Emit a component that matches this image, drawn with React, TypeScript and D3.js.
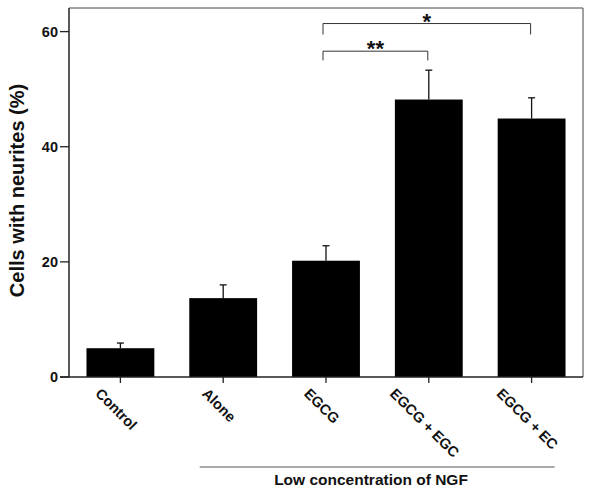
import React from "react";
import * as d3 from "d3";

const categories = ["Control", "Alone", "EGCG", "EGCG + EGC", "EGCG + EC"];
const means = [5.0, 13.7, 20.2, 48.2, 44.9];
const errTops = [5.9, 16.0, 22.8, 53.3, 48.5];
const yTicks = [0, 20, 40, 60];
const groupLabel = "Low concentration of NGF";
const groupMembers = ["Alone", "EGCG + EC"];
const brackets = [
  { from: "EGCG", to: "EGCG + EC", level: 61.4, drop: 59.5, label: "*" },
  { from: "EGCG", to: "EGCG + EGC", level: 56.6, drop: 55.0, label: "**" },
];
const yTitle = "Cells with neurites (%)";

const W = 600;
const H = 493;
const left = 69;
const right = 583;
const top = 8;
const bottom = 377;
const FONT = "'Liberation Sans', Arial, Helvetica, sans-serif";
const XFS = 14.5;

function measure(text: string, size: number): number {
  if (typeof document === "undefined") return text.length * size * 0.6;
  const canvas = document.createElement("canvas");
  const ctx = canvas.getContext("2d");
  if (!ctx) return text.length * size * 0.6;
  ctx.font = `bold ${size}px "Liberation Sans", Arial, sans-serif`;
  return ctx.measureText(text).width;
}

export default function App() {
  const x = d3.scaleBand<string>().domain(categories).range([left, right]).paddingInner(0.34).paddingOuter(0.17);
  const y = d3.scaleLinear().domain([0, 64.1]).range([bottom, top]);
  const bw = x.bandwidth();
  const cx = (c: string) => (x(c) as number) + bw / 2;
  const c45 = Math.SQRT1_2;
  const asc = 0.72 * XFS;

  return (
    <svg width={W} height={H} style={{ position: "absolute", left: 0, top: 0, background: "#fff" }} fontFamily={FONT}>
      <rect x={0} y={0} width={W} height={H} fill="#fff" />
      {/* frame top/right */}
      <line x1={left} x2={right} y1={top} y2={top} stroke="#444" strokeWidth={1} />
      <line x1={right} x2={right} y1={top} y2={bottom} stroke="#444" strokeWidth={1} />
      {/* bars */}
      {categories.map((c, i) => (
        <rect key={c} x={x(c)} y={y(means[i])} width={bw} height={bottom - y(means[i])} fill="#000" />
      ))}
      {/* error bars */}
      {categories.map((c, i) => (
        <g key={"e" + c} stroke="#111" strokeWidth={1.3}>
          <line x1={cx(c)} x2={cx(c)} y1={y(means[i])} y2={y(errTops[i])} />
          <line x1={cx(c) - 3.5} x2={cx(c) + 3.5} y1={y(errTops[i])} y2={y(errTops[i])} />
        </g>
      ))}
      {/* axes */}
      <line x1={left} x2={left} y1={top} y2={bottom} stroke="#222" strokeWidth={1.5} />
      <line x1={left - 9} x2={right} y1={bottom} y2={bottom} stroke="#222" strokeWidth={1.5} />
      {yTicks.map((t) => (
        <g key={t}>
          <line x1={left - 9} x2={left} y1={y(t)} y2={y(t)} stroke="#222" strokeWidth={1.3} />
          <text x={left - 11} y={y(t)} dy="0.36em" textAnchor="end" fontSize={14.5} fontWeight="bold" fill="#111">
            {t}
          </text>
        </g>
      ))}
      {categories.map((c) => {
        const L = measure(c, XFS);
        const x0 = cx(c) - 4 - ((L + asc) * c45) / 2;
        const y0 = bottom + 10 + asc * c45;
        return (
          <g key={"t" + c}>
            <line x1={cx(c)} x2={cx(c)} y1={bottom} y2={bottom + 6} stroke="#222" strokeWidth={1.3} />
            <text
              transform={`translate(${x0},${y0}) rotate(45)`}
              textAnchor="start"
              fontSize={XFS}
              fontWeight="bold"
              fill="#111"
            >
              {c}
            </text>
          </g>
        );
      })}
      {/* y title */}
      <text
        transform={`translate(24,190.5) rotate(-90)`}
        textAnchor="middle"
        fontSize={20}
        fontWeight="bold"
        fill="#111"
      >
        {yTitle}
      </text>
      {/* group line */}
      <line x1={cx(groupMembers[0]) - 23.5} x2={cx(groupMembers[1]) + 23} y1={467} y2={467} stroke="#555" strokeWidth={1} />
      <text x={371} y={485} textAnchor="middle" fontSize={15.5} fontWeight="bold" fill="#111">
        {groupLabel}
      </text>
      {/* brackets */}
      {brackets.map((b) => {
        const x1 = cx(b.from) - 3;
        const x2 = cx(b.to) - 1;
        return (
          <g key={b.label}>
            <path
              d={`M${x1},${y(b.drop)}V${y(b.level)}H${x2}V${y(b.drop)}`}
              fill="none"
              stroke="#333"
              strokeWidth={1}
            />
            <text x={(x1 + x2) / 2} y={y(b.level) + 5} textAnchor="middle" fontSize={22} fontWeight="bold" fill="#111">
              {b.label}
            </text>
          </g>
        );
      })}
    </svg>
  );
}
